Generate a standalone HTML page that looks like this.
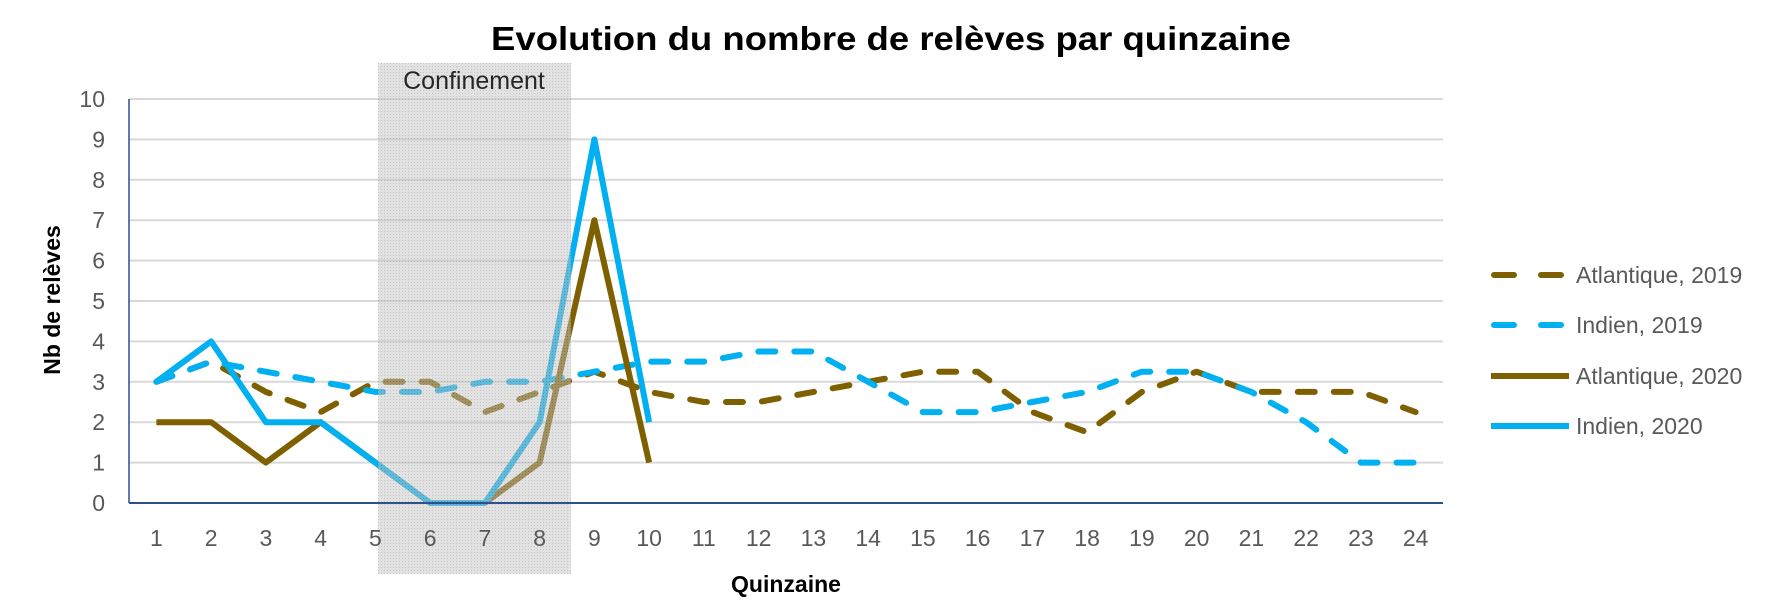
<!DOCTYPE html>
<html><head><meta charset="utf-8"><style>
body{margin:0;background:#fff;}
svg{display:block;font-family:"Liberation Sans",sans-serif;}
</style></head><body>
<svg id="chart" width="1778" height="616" viewBox="0 0 1778 616">
<defs>
<pattern id="dots" width="3" height="3" patternUnits="userSpaceOnUse">
<rect width="3" height="3" fill="#c4c4c4"/><rect width="1" height="1" fill="#8a8a8a"/>
</pattern>
</defs>
<text x="891" y="50" text-anchor="middle" font-size="33" font-weight="bold" fill="#000" textLength="800" lengthAdjust="spacingAndGlyphs">Evolution du nombre de relèves par quinzaine</text>
<g id="grid"></g>
<g id="series"></g>
<g>
<rect x="378" y="63" width="193" height="511" fill="url(#dots)" opacity="0.5"/>
<text x="474" y="89" text-anchor="middle" font-size="25" fill="#262626">Confinement</text>
</g>
<g id="axes"></g>
<text transform="translate(60,300) rotate(-90)" text-anchor="middle" font-size="23" font-weight="bold" fill="#000">Nb de relèves</text>
<text x="786" y="592" text-anchor="middle" font-size="23" font-weight="bold" fill="#000">Quinzaine</text>
<g id="legend"></g>
</svg>
<script>
const categories = [1,2,3,4,5,6,7,8,9,10,11,12,13,14,15,16,17,18,19,20,21,22,23,24];
const yTicks = [0,1,2,3,4,5,6,7,8,9,10];
const atl2019 = [3,3.5,2.75,2.25,3,3,2.25,2.75,3.25,2.75,2.5,2.5,2.75,3,3.25,3.25,2.25,1.75,2.75,3.25,2.75,2.75,2.75,2.25];
const ind2019 = [3,3.5,3.25,3,2.75,2.75,3,3,3.25,3.5,3.5,3.75,3.75,3,2.25,2.25,2.5,2.75,3.25,3.25,2.75,2,1,1];
const atl2020 = [2,2,1,2,1,0,0,1,7,1];
const ind2020 = [3,4,2,2,1,0,0,2,9,2];
const seriesNames = ["Atlantique, 2019","Indien, 2019","Atlantique, 2020","Indien, 2020"];

const NS="http://www.w3.org/2000/svg";
const L=129,R=1443,T=99,B=503;
const step=(R-L)/categories.length;
const x=i=>L+step*(i+0.5);
const y=v=>B-(B-T)*v/10;
function mk(tag,attrs,parent){const e=document.createElementNS(NS,tag);for(const k in attrs)e.setAttribute(k,attrs[k]);parent.appendChild(e);return e;}
const grid=document.getElementById('grid'),axes=document.getElementById('axes'),ser=document.getElementById('series'),leg=document.getElementById('legend');
yTicks.forEach(t=>{
 if(t>0){const g=mk('line',{x1:L,x2:R,y1:y(t),y2:y(t),stroke:'#d9d9d9','stroke-width':2},grid);
 
 }
 const lb=mk('text',{x:105,y:y(t)+8,'text-anchor':'end','font-size':23,fill:'#595959'},axes);
 lb.textContent=t;
 
 
});
categories.forEach((c,i)=>{
 const lb=mk('text',{x:x(i),y:546,'text-anchor':'middle','font-size':23,fill:'#595959'},axes);
 lb.textContent=c;
 
 
});
const ya=mk('line',{x1:L,x2:L,y1:T,y2:B,stroke:'#2f4f8f','stroke-width':1.5},axes);


const xa=mk('line',{x1:L,x2:R,y1:B,y2:B,stroke:'#2f4f8f','stroke-width':2},axes);


const defs=[[atl2019,'#7f6000',true,'series-atlantique-2019'],[ind2019,'#00b0f0',true,'series-indien-2019'],[atl2020,'#7f6000',false,'series-atlantique-2020'],[ind2020,'#00b0f0',false,'series-indien-2020']];
defs.forEach(([d,col,dash,name])=>{
 const p=mk('polyline',{points:d.map((v,i)=>x(i)+','+y(v)).join(' '),fill:'none',stroke:col,'stroke-width':6,'stroke-linejoin':'round','stroke-linecap':dash?'round':'butt'},ser);
 if(dash)p.setAttribute('stroke-dasharray','17 19');
 
 
});
const ly=[275,325,376,426];
defs.forEach(([d,col,dash,name],i)=>{
 const g=mk('g',{},leg);
 
 
 const ln=mk('line',{x1:dash?1494:1491,x2:dash?1563:1569,y1:ly[i],y2:ly[i],stroke:col,'stroke-width':6,'stroke-linecap':dash?'round':'butt'},g);
 if(dash)ln.setAttribute('stroke-dasharray','20 27');
 const t=mk('text',{x:1576,y:ly[i]+8,'font-size':23,fill:'#595959'},g);
 t.textContent=seriesNames[i];
});
</script>
</body></html>
